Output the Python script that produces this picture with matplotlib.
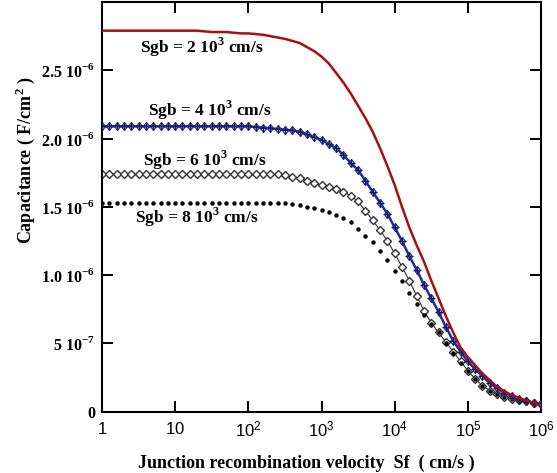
import numpy as np
import matplotlib
matplotlib.use("Agg")
import matplotlib.pyplot as plt

plt.rcParams['mathtext.fontset'] = 'custom'
plt.rcParams['mathtext.bf'] = 'Liberation Serif:bold'
plt.rcParams['mathtext.rm'] = 'Liberation Serif:bold'
plt.rcParams['mathtext.sf'] = 'Liberation Sans'

# log10 of junction recombination velocity Sf (cm/s), 0.1-decade steps
log_sf = np.round(np.arange(0, 61) / 10, 1)
sf = 10 ** log_sf

SCALE = 1e-6  # values below in units of 1e-6 F/cm2

cap_2e3 = [2.79] * 14 + [
    2.785, 2.78, 2.78, 2.78, 2.775, 2.77, 2.77, 2.765, 2.76, 2.75,
    2.74, 2.73, 2.715, 2.70, 2.67, 2.64, 2.60, 2.55, 2.48, 2.41,
    2.33, 2.24, 2.15, 2.05, 1.93, 1.80, 1.66, 1.50, 1.35, 1.22,
    1.10, 0.96, 0.83, 0.70, 0.58, 0.47, 0.40, 0.34, 0.28, 0.23,
    0.18, 0.15, 0.12, 0.10, 0.08, 0.065, 0.05]

cap_4e3 = [2.09] * 21 + [
    2.085, 2.08, 2.075, 2.07, 2.065, 2.06, 2.05, 2.03, 2.01, 1.99,
    1.96, 1.93, 1.88, 1.82, 1.77, 1.69, 1.61, 1.53, 1.45, 1.35,
    1.25, 1.14, 1.04, 0.93, 0.83, 0.73, 0.62, 0.52, 0.44, 0.37,
    0.31, 0.26, 0.21, 0.17, 0.14, 0.115, 0.095, 0.08, 0.065, 0.055]

cap_6e3 = [1.74] * 25 + [
    1.73, 1.72, 1.71, 1.69, 1.675, 1.66, 1.645, 1.63, 1.61, 1.58,
    1.54, 1.47, 1.40, 1.33, 1.25, 1.16, 1.06, 0.96, 0.85, 0.74,
    0.65, 0.58, 0.51, 0.44, 0.37, 0.30, 0.24, 0.19, 0.155, 0.13,
    0.11, 0.095, 0.085, 0.075, 0.065, 0.06]

cap_8e3 = [1.53] * 25 + [
    1.525, 1.52, 1.51, 1.50, 1.49, 1.475, 1.46, 1.44, 1.42, 1.39,
    1.34, 1.29, 1.24, 1.18, 1.11, 1.03, 0.96, 0.87, 0.79, 0.71,
    0.64, 0.58, 0.50, 0.43, 0.36, 0.30, 0.24, 0.19, 0.155, 0.13,
    0.11, 0.095, 0.08, 0.07, 0.06, 0.05]

series_labels = [r"Sgb = 2 10$^{\mathbf{3}}$ cm/s",
                 r"Sgb = 4 10$^{\mathbf{3}}$ cm/s",
                 r"Sgb = 6 10$^{\mathbf{3}}$ cm/s",
                 r"Sgb = 8 10$^{\mathbf{3}}$ cm/s"]

x_ticks = [1, 10, 1e2, 1e3, 1e4, 1e5, 1e6]
x_tick_labels = [r"$\mathsf{1}$", r"$\mathsf{10}$", r"$\mathsf{10^{2}}$",
                 r"$\mathsf{10^{3}}$", r"$\mathsf{10^{4}}$",
                 r"$\mathsf{10^{5}}$", r"$\mathsf{10^{6}}$"]
y_ticks = [0, 0.5, 1.0, 1.5, 2.0, 2.5]
y_tick_labels = ["0", r"5 10$^{\mathbf{-7}}$", r"1.0 10$^{\mathbf{-6}}$",
                 r"1.5 10$^{\mathbf{-6}}$", r"2.0 10$^{\mathbf{-6}}$",
                 r"2.5 10$^{\mathbf{-6}}$"]

fig = plt.figure(figsize=(5.57, 4.73), dpi=100)
ax = fig.add_axes([0.1831, 0.1296, 0.7882, 0.8662])

s = np.array
ax.plot(sf, s(cap_2e3) * SCALE, color="#a81010", lw=1.8, zorder=4)
ax.plot(sf, s(cap_4e3) * SCALE, color="#1c2aa8", lw=1.8, zorder=3)
ax.plot(sf, s(cap_4e3) * SCALE, ls="none", marker="d", ms=4.5,
        mfc="none", mec="#22308a", mew=0.9, zorder=3)
ax.plot(sf, s(cap_4e3) * SCALE, ls="none", marker="+", ms=6,
        mec="#1a1a60", mew=0.9, zorder=3)
ax.plot(sf, s(cap_6e3) * SCALE, color="#3a3030", lw=0.8, zorder=2)
ax.plot(sf, s(cap_6e3) * SCALE, ls="none", marker="D", ms=4,
        mfc="white", mec="#3a3030", mew=1.0, zorder=2)
ax.plot(sf, s(cap_8e3) * SCALE, ls="none", marker="o", ms=2.2,
        mfc="black", mec="black", zorder=2)

ax.set_xscale("log")
ax.set_xlim(1, 1e6)
ax.set_ylim(0, 3.0e-6)
ax.set_xticks(x_ticks)
ax.set_xticklabels(x_tick_labels, fontsize=12)
ax.xaxis.set_minor_locator(matplotlib.ticker.NullLocator())
ax.set_yticks([v * SCALE for v in y_ticks])
ax.set_yticklabels(y_tick_labels, fontsize=11.5, family="Liberation Serif",
                   fontweight="bold")
ax.tick_params(direction="in", length=8, width=1.4, top=True, right=True)
ax.tick_params(axis="x", pad=6)
ax.tick_params(axis="y", pad=5)
for sp in ax.spines.values():
    sp.set_linewidth(1.5)

ax.set_xlabel("Junction recombination velocity  Sf  ( cm/s )",
              family="Liberation Serif", fontweight="bold", fontsize=13)
ax.xaxis.set_label_coords(0.466, -0.105)

fig.text(25 / 557, 1 - 160 / 473, r"Capacitance ( F/cm$^{\mathbf{2}}$ )",
         family="Liberation Serif", fontweight="bold", fontsize=13,
         rotation=90, ha="center", va="center")

label_pos = [(140, 47), (148, 110), (143, 160), (135, 217)]
for txt, (px, py) in zip(series_labels, label_pos):
    fig.text(px / 557, 1 - py / 473, txt, fontsize=12.5, va="center",
             ha="left", family="Liberation Serif", fontweight="bold")

fig.savefig("out.png", dpi=100)
